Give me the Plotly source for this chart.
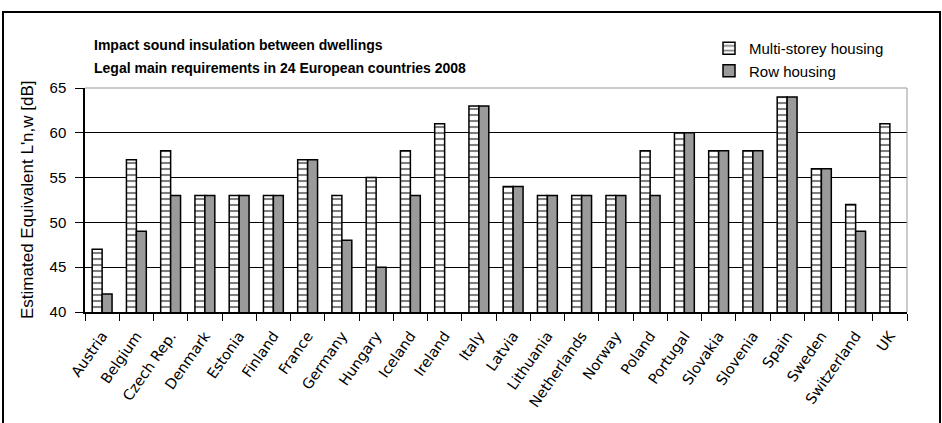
import plotly.graph_objects as go

countries = ["Austria", "Belgium", "Czech Rep.", "Denmark", "Estonia", "Finland", "France",
             "Germany", "Hungary", "Iceland", "Ireland", "Italy", "Latvia", "Lithuania",
             "Netherlands", "Norway", "Poland", "Portugal", "Slovakia", "Slovenia", "Spain",
             "Sweden", "Switzerland", "UK"]
multi_storey = [47, 57, 58, 53, 53, 53, 57, 53, 55, 58, 61, 63, 54, 53, 53, 53, 58, 60, 58, 58, 64, 56, 52, 61]
row_housing = [42, 49, 53, 53, 53, 53, 57, 48, 45, 53, None, 63, 54, 53, 53, 53, 53, 60, 58, 58, 64, 56, 49, None]
y_ticks = [40, 45, 50, 55, 60, 65]

W, H = 942, 423
L, R, T, B = 85, 35, 88, 111
pw, ph = W - L - R, H - T - B

def px(x):
    return (x - L) / pw

def py(y):
    return (H - B - y) / ph

sans = "Liberation Sans, Arial"

fig = go.Figure()
fig.add_trace(go.Bar(
    x=countries, y=multi_storey, name="Multi-storey housing",
    marker=dict(color="white", line=dict(color="black", width=1.5),
                pattern=dict(shape="-", fgcolor="black", bgcolor="white", size=6, solidity=0.35)),
))
fig.add_trace(go.Bar(
    x=countries, y=row_housing, name="Row housing",
    marker=dict(color="#999999", line=dict(color="black", width=1.5),
                pattern=dict(shape=".", fgcolor="#666666", bgcolor="#bdbdbd", size=2, solidity=0.45,
                             fillmode="replace")),
))

fig.update_layout(
    width=W, height=H, margin=dict(l=L, r=R, t=T, b=B, autoexpand=False),
    paper_bgcolor="white", plot_bgcolor="white",
    barmode="group", bargap=0.42, bargroupgap=0,
    font=dict(family=sans, size=14, color="black"),
    showlegend=True,
    legend=dict(x=px(709), y=py(32), xanchor="left", yanchor="top",
                bgcolor="rgba(0,0,0,0)", font=dict(family=sans, size=15),
                itemwidth=30, tracegroupgap=0, traceorder="normal"),
    xaxis=dict(type="category", tickson="boundaries", ticks="outside", ticklen=7,
               tickcolor="black", tickwidth=1, showline=True, linecolor="black", linewidth=1.5,
               tickangle=-55, tickfont=dict(family="DejaVu Sans", size=14.5), showgrid=False,
               ticklabelstandoff=8),
    yaxis=dict(range=[40, 65], tickvals=y_ticks, ticks="outside", ticklen=8, tickcolor="black",
               showline=True, linecolor="black", linewidth=1.5, showgrid=True, gridcolor="black",
               gridwidth=1, zeroline=False, tickfont=dict(family=sans, size=15),
               ticklabelstandoff=6),
    shapes=[
        dict(type="rect", xref="paper", yref="paper", x0=px(3), x1=px(940), y0=py(440), y1=py(12),
             line=dict(color="black", width=2), fillcolor="rgba(0,0,0,0)", layer="below"),
        dict(type="line", xref="paper", yref="paper", x0=0, x1=1, y0=1, y1=1,
             line=dict(color="#999999", width=1)),
        dict(type="line", xref="paper", yref="paper", x0=1, x1=1, y0=0, y1=1,
             line=dict(color="#999999", width=1)),
    ],
    annotations=[
        dict(text="<b>Impact sound insulation between dwellings</b>", xref="paper", yref="paper",
             x=px(92), y=py(45), xanchor="left", yanchor="middle", showarrow=False,
             font=dict(family=sans, size=14)),
        dict(text="<b>Legal main requirements in 24 European countries 2008</b>", xref="paper", yref="paper",
             x=px(92), y=py(68), xanchor="left", yanchor="middle", showarrow=False,
             font=dict(family=sans, size=14)),
        dict(text="Estimated Equivalent L'n,w [dB]", xref="paper", yref="paper",
             x=px(27), y=py(200), xanchor="center", yanchor="middle", textangle=-90, showarrow=False,
             font=dict(family=sans, size=17)),
    ],
)

fig.write_html("out.html")
